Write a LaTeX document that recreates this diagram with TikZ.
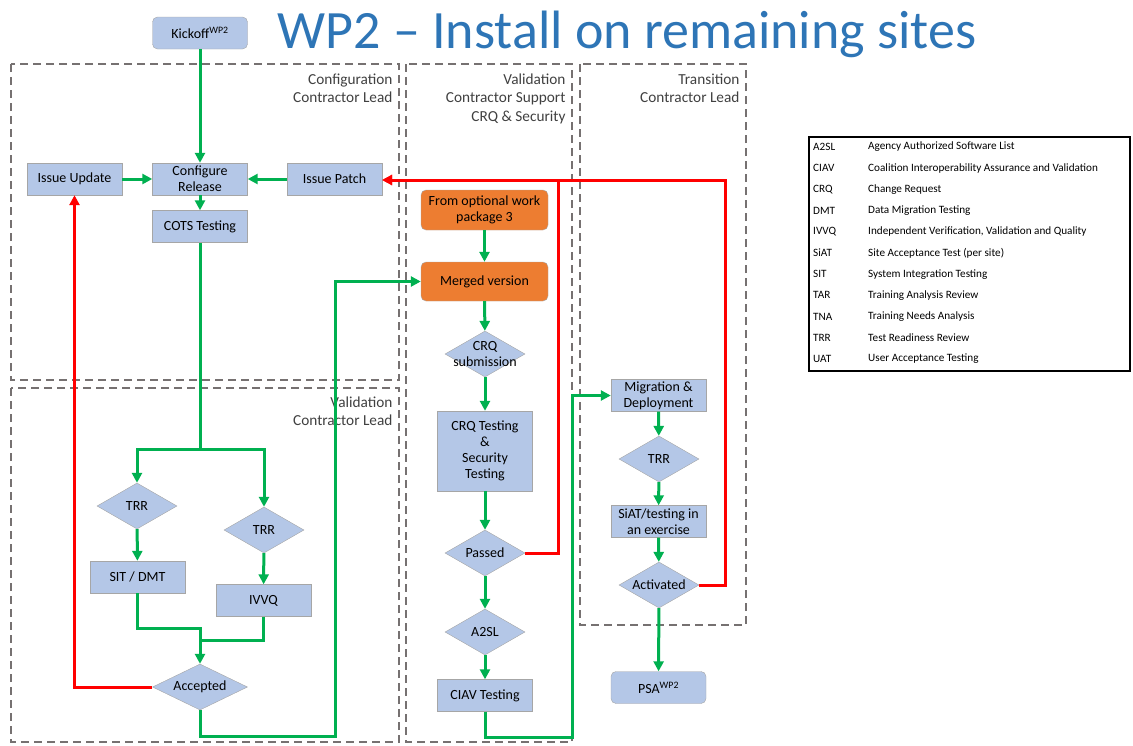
\documentclass[tikz,border=0pt]{standalone}
\usepackage{fontspec}
\setmainfont{Carlito}
\definecolor{BoxBlue}{RGB}{180, 199, 231}
\definecolor{WPOrange}{RGB}{237, 125, 49}
\definecolor{FlowGreen}{RGB}{0, 176, 80}
\definecolor{FlowRed}{RGB}{255, 0, 0}
\definecolor{LaneGray}{RGB}{118, 113, 113}
\definecolor{TitleBlue}{RGB}{46, 117, 182}
\usetikzlibrary{arrows.meta, shapes.geometric}

\begin{document}
\begin{tikzpicture}[x=1pt, y=-1pt,
    every node/.style={font=\fontsize{14}{16}\selectfont},
    box/.style={draw=gray!70, fill=BoxBlue, minimum width=95, minimum height=32, inner sep=1pt, align=center},
    rbox/.style={box, rounded corners=5pt},
    obox/.style={box, fill=WPOrange, rounded corners=5pt, minimum width=127, minimum height=40},
    dec/.style={diamond, draw=gray!70, fill=BoxBlue, minimum width=80, minimum height=46, inner sep=0pt},
    lane/.style={draw=LaneGray, line width=2.5pt, dash pattern=on 8pt off 5pt},
    lanetxt/.style={anchor=north east, align=right, text=black!75, font=\fontsize{15.3}{18.5}\selectfont},
    go/.style={draw=FlowGreen, line width=3pt, -{Triangle[length=10pt, width=10pt]}},
    back/.style={draw=FlowRed, line width=3pt, -{Triangle[length=10pt, width=10pt]}},
    legtxt/.style={anchor=west, inner sep=0pt, font=\fontsize{11.2}{13}\selectfont}]
    \useasboundingbox (0,0) rectangle (1133,745);

    % Title
    \node[anchor=base, text=TitleBlue, font=\fontsize{54}{60}\selectfont] (title) at (627,48) {WP2 – Install on remaining sites};

    % Lanes
    \draw[lane] (11,64) rectangle (399,380);
    \draw[lane] (11,388) rectangle (399,742);
    \draw[lane] (406,64) rectangle (572,742);
    \draw[lane] (580,64) rectangle (746,625);
    \node[lanetxt] (cfglane) at (396,70) {Configuration\\Contractor Lead};
    \node[lanetxt] (vallane) at (396,393) {Validation\\Contractor Lead};
    \node[lanetxt] (crqlane) at (569,70) {Validation\\Contractor Support\\CRQ \& Security};
    \node[lanetxt] (trnlane) at (743,70) {Transition\\Contractor Lead};

    % Configuration
    \node[rbox] (kick) at (200,33) {Kickoff\textsuperscript{WP2}};
    \node[box] (conf) at (200,179) {Configure\\Release};
    \node[box] (upd) at (74.5,179) {Issue Update};
    \node[box] (patch) at (334.5,179) {Issue Patch};
    \node[box] (cots) at (200,226.5) {COTS Testing};

    % Validation lead
    \node[dec, label=center:TRR] (trra) at (137,506) {};
    \node[box] (sit) at (137.5,577) {SIT / DMT};
    \node[dec, label=center:TRR] (trrb) at (264,530) {};
    \node[box] (ivvq) at (263.5,600.5) {IVVQ};
    \node[dec, minimum width=95, label=center:Accepted] (acc) at (200,687) {};

    % Validation support
    \node[obox] (opt) at (484.5,210) {From optional work\\package 3};
    \node[obox, minimum height=39] (merged) at (484.5,281.5) {Merged version};
    \node[dec, label={[align=center]center:CRQ\\submission}] (crq) at (485,354) {};
    \node[box, minimum height=80] (crqtest) at (485,451) {CRQ Testing\\\&\\Security\\Testing};
    \node[dec, label=center:Passed] (passed) at (485,553) {};
    \node[dec, label=center:A2SL] (atsl) at (485,632) {};
    \node[box] (ciav) at (485,695.5) {CIAV Testing};

    % Transition
    \node[box] (mig) at (658.5,395.5) {Migration \&\\Deployment};
    \node[dec, label=center:TRR] (trrc) at (659,459) {};
    \node[box] (siat) at (658.5,521.5) {SiAT/testing in\\an exercise};
    \node[dec, label=center:Activated] (act) at (659,585) {};
    \node[rbox] (psa) at (658.5,687.5) {PSA\textsuperscript{WP2}};

    % Green flow
    \coordinate (split) at (200,449);
    \coordinate (accout) at (335,736);
    \coordinate (ciavout) at (572,737);
    \draw[go] (kick) -- (conf);
    \draw[go] (upd) -- (conf);
    \draw[go] (patch) -- (conf);
    \draw[go] (conf) -- (cots);
    \draw[go] (cots.south) -- (split) -| (trra.north);
    \draw[go] (split) -| (trrb.north);
    \draw[go] (trra) -- (sit);
    \draw[go] (trrb) -- (ivvq);
    \draw[go] (sit.south) |- (200,628) -- (acc.north);
    \draw[draw=FlowGreen, line width=3pt] (ivvq.south) |- (200,640);
    \draw[go] (acc.south) |- (accout) |- (merged.west);
    \draw[go] (opt) -- (merged);
    \draw[go] (merged) -- (crq);
    \draw[go] (crq) -- (crqtest);
    \draw[go] (crqtest) -- (passed);
    \draw[go] (passed) -- (atsl);
    \draw[go] (atsl) -- (ciav);
    \draw[go] (ciav.south) |- (ciavout) |- (mig.west);
    \draw[go] (mig) -- (trrc);
    \draw[go] (trrc) -- (siat);
    \draw[go] (siat) -- (act);
    \draw[go] (act) -- (psa);

    % Red flow
    \coordinate (passup) at (558,180);
    \coordinate (actup) at (725,180);
    \draw[back] (acc.west) -| (upd.south);
    \draw[back] (passed.east) -| (passup) -- (patch.east |- passup);
    \draw[back] (act.east) -| (actup) -- (patch.east |- actup);

    % Legend
    \node[draw, line width=2pt, minimum width=321, minimum height=234, anchor=north west, inner sep=0pt] (legend) at (808,136) {};
    \foreach \ab/\txt [count=\i] in {A2SL/Agency Authorized Software List,
        CIAV/Coalition Interoperability Assurance and Validation,
        CRQ/Change Request, DMT/Data Migration Testing,
        IVVQ/{Independent Verification, Validation and Quality},
        SiAT/Site Acceptance Test (per site), SIT/System Integration Testing,
        TAR/Training Analysis Review, TNA/Training Needs Analysis,
        TRR/Test Readiness Review, UAT/User Acceptance Testing} {
        \node[legtxt] (ab\i) at (813,{147+21.2*(\i-1)}) {\ab};
        \node[legtxt] (desc\i) at (868,{147+21.2*(\i-1)}) {\txt};
    }
\end{tikzpicture}
\end{document}
